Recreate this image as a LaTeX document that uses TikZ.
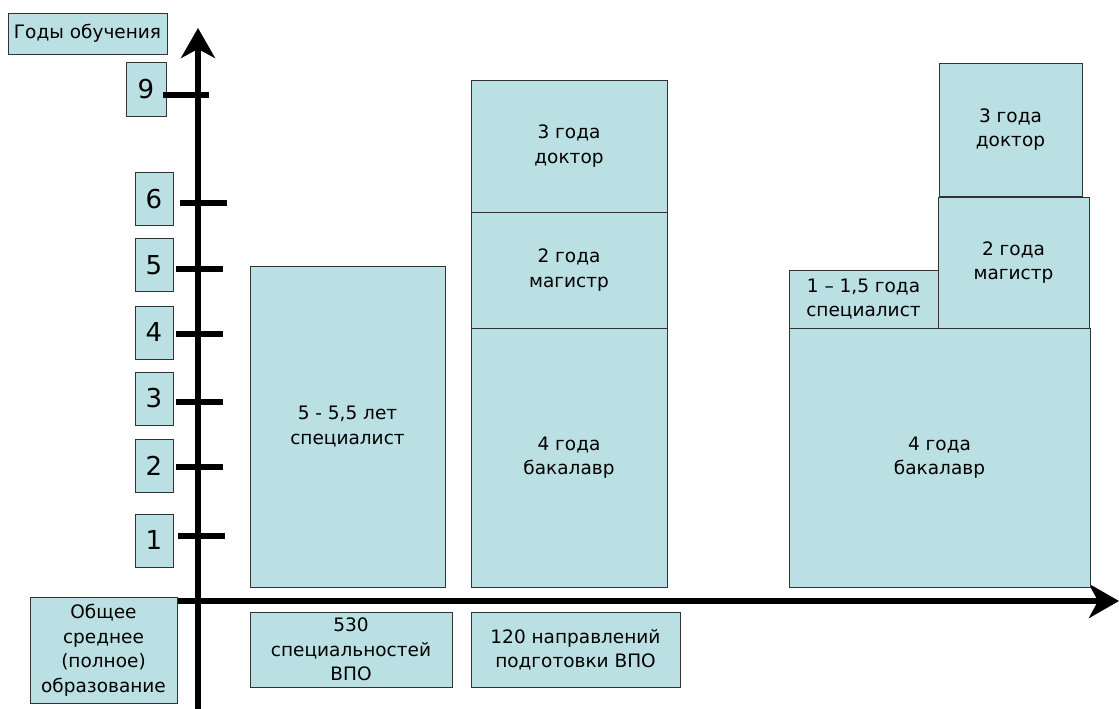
\documentclass[tikz,border=0pt]{standalone}
\usepackage{fontspec}
\setmainfont{DejaVu Sans}
\usetikzlibrary{arrows.meta}
\definecolor{boxfill}{RGB}{187,224,227}
\begin{document}
\begin{tikzpicture}[x=1pt,y=-1pt,
  box/.style={draw=black!80, fill=boxfill, line width=0.9pt, inner sep=0pt, align=center,
    font=\fontsize{18.5}{24.5}\selectfont},
  numbox/.style={box, minimum width=38pt, minimum height=53pt, font=\fontsize{26}{28}\selectfont},
  axisline/.style={line width=6.5pt, -{Stealth[length=30pt, width=34pt, inset=9pt]}},
  tickline/.style={line width=6.5pt}]
\useasboundingbox (0,0) rectangle (1119,709);

% axes
\coordinate (yb) at (198,709);
\coordinate (yt) at (198,28);
\coordinate (xl) at (177,601);
\coordinate (xr) at (1119,601);
\draw[axisline] (yb) -- (yt);
\draw[axisline] (xl) -- (xr);

% title
\node[box, minimum width=159pt, minimum height=41pt] (title) at (87.5,33.5) {Годы обучения};

% tick labels
\node[numbox, minimum width=40pt, minimum height=54pt] (n9) at (146,89) {9};
\node[numbox] (n6) at (154,199) {6};
\node[numbox] (n5) at (154,265) {5};
\node[numbox] (n4) at (154,332.5) {4};
\node[numbox] (n3) at (154,398.5) {3};
\node[numbox] (n2) at (154,465.5) {2};
\node[numbox] (n1) at (154,540.5) {1};

% ticks
\draw[tickline] (163,95) -- (209,95);
\draw[tickline] (180,203) -- (227,203);
\draw[tickline] (176,269) -- (223,269);
\draw[tickline] (176,334) -- (223,334);
\draw[tickline] (176,402) -- (223,402);
\draw[tickline] (176,467) -- (223,467);
\draw[tickline] (178,536) -- (225,536);

% school box
\node[box, minimum width=147pt, minimum height=106pt] (school) at (103.5,650)
  {Общее\\среднее\\(полное)\\образование};

% left column
\node[box, minimum width=195pt, minimum height=321pt] (spec) at (347.5,426.5) {5 - 5,5 лет\\специалист};

% middle column
\node[box, minimum width=196pt, minimum height=259pt] (bak1) at (569,457.5) {4 года\\бакалавр};
\node[box, minimum width=196pt, minimum height=116pt] (mag1) at (569,270) {2 года\\магистр};
\node[box, minimum width=196pt, minimum height=132pt] (doc1) at (569,146) {3 года\\доктор};

% right column
\node[box, minimum width=301pt, minimum height=259pt] (bak2) at (939.5,457.5) {4 года\\бакалавр};
\node[box, minimum width=149pt, minimum height=58pt] (spec2) at (863.5,299) {1 – 1,5 года\\специалист};
\node[box, minimum width=151pt, minimum height=131pt] (mag2) at (1013.5,262.5) {2 года\\магистр};
\node[box, minimum width=143pt, minimum height=133pt] (doc2) at (1010.5,129.5) {3 года\\доктор};

% bottom labels
\node[box, minimum width=202pt, minimum height=75pt] (b530) at (351,649.5) {530\\специальностей\\ВПО};
\node[box, minimum width=209pt, minimum height=75pt] (b120) at (575.5,649.5) {120 направлений\\подготовки ВПО};
\end{tikzpicture}
\end{document}
